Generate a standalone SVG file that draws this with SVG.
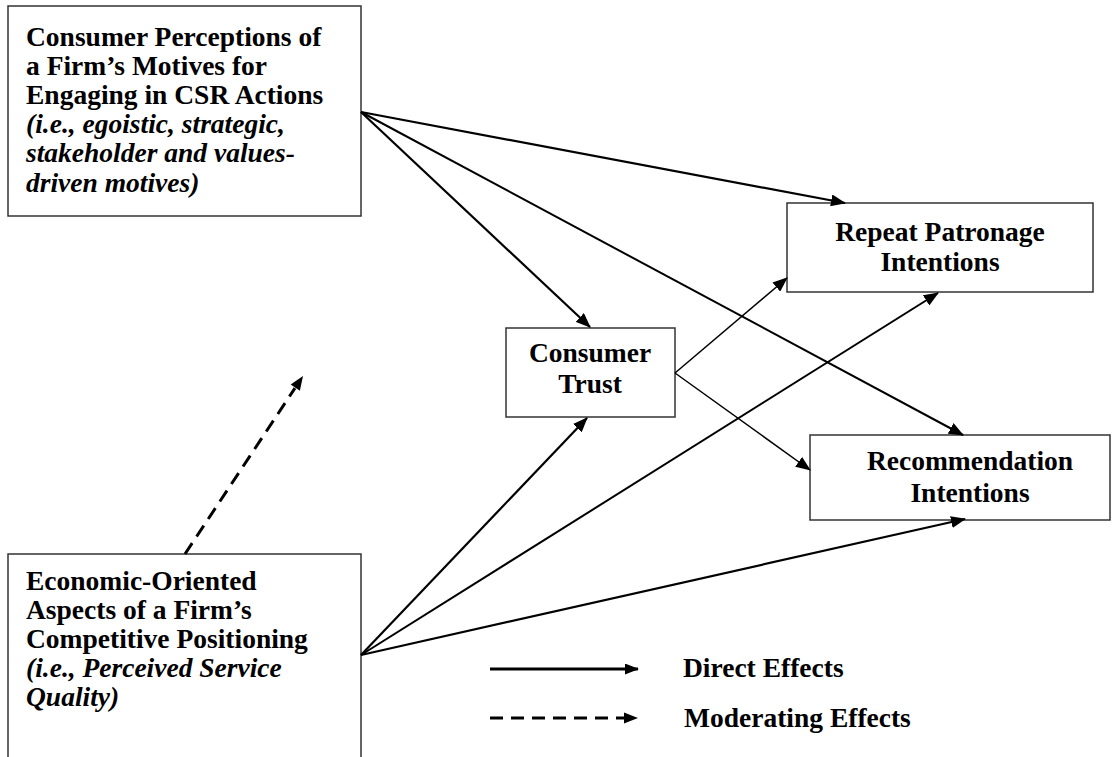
<svg xmlns="http://www.w3.org/2000/svg" width="1115" height="757" viewBox="0 0 1115 757">
<style>
.box{fill:#fff;stroke:#333;stroke-width:1.5}
.t{font-family:'Liberation Serif','Times New Roman',Times,serif;font-weight:bold;font-size:27.5px;fill:#000}
.i{font-style:italic}
.c{text-anchor:middle}
.e{stroke:#000;fill:none}
.d{stroke:#000;fill:none;stroke-width:3;stroke-linecap:butt}
</style>
<defs>
<marker id="ah" markerUnits="userSpaceOnUse" viewBox="0 0 15 12" markerWidth="15" markerHeight="12" refX="14" refY="6" orient="auto"><path d="M0,0 L15,6 L0,12 z" fill="#000"/></marker>
<marker id="ahs" markerUnits="userSpaceOnUse" viewBox="0 0 14 11" markerWidth="14" markerHeight="11" refX="13" refY="5.5" orient="auto"><path d="M0,0 L14,5.5 L0,11 z" fill="#000"/></marker>
</defs>
<g id="n-csr">
<rect class="box" x="8" y="6" width="353" height="210"/>
<text class="t" x="26" y="46">Consumer Perceptions of</text>
<text class="t" x="26" y="75">a Firm’s Motives for</text>
<text class="t" x="26" y="104">Engaging in CSR Actions</text>
<text class="t i" x="26" y="133">(i.e., egoistic, strategic,</text>
<text class="t i" x="26" y="162">stakeholder and values-</text>
<text class="t i" x="26" y="192">driven motives)</text>
</g>
<g id="n-econ">
<rect class="box" x="8" y="554" width="353" height="220"/>
<text class="t" x="26" y="590">Economic-Oriented</text>
<text class="t" x="26" y="619">Aspects of a Firm’s</text>
<text class="t" x="26" y="648">Competitive Positioning</text>
<text class="t i" x="26" y="677">(i.e., Perceived Service</text>
<text class="t i" x="26" y="706">Quality)</text>
</g>
<g id="n-trust">
<rect class="box" x="506" y="328" width="169" height="89"/>
<text class="t c" x="590" y="362">Consumer</text>
<text class="t c" x="590" y="393">Trust</text>
</g>
<g id="n-repeat">
<rect class="box" x="787" y="203" width="306" height="89"/>
<text class="t c" x="940" y="241">Repeat Patronage</text>
<text class="t c" x="940" y="271">Intentions</text>
</g>
<g id="n-recommend">
<rect class="box" x="810" y="435" width="300" height="85"/>
<text class="t c" x="970" y="470">Recommendation</text>
<text class="t c" x="970" y="502">Intentions</text>
</g>
<g id="connectors">
<path class="e" stroke-width="2.2" d="M361,112 L845,203" marker-end="url(#ah)"/>
<path class="e" stroke-width="2.2" d="M361,112 L590,327" marker-end="url(#ah)"/>
<path class="e" stroke-width="2" d="M361,112 L963,435" marker-end="url(#ah)"/>
<path class="e" stroke-width="2.2" d="M361,655 L587,418" marker-end="url(#ah)"/>
<path class="e" stroke-width="2" d="M361,655 L938,293" marker-end="url(#ah)"/>
<path class="e" stroke-width="2.2" d="M361,655 L965,519" marker-end="url(#ah)"/>
<path class="e" stroke-width="1.5" d="M675,373 L787,278" marker-end="url(#ah)"/>
<path class="e" stroke-width="1.5" d="M675,373 L810,470" marker-end="url(#ah)"/>
<path class="d" d="M185,554 L192.18,543.17 M196.6,536.5 L203.79,525.66 M208.21,519 L215.39,508.16 M219.81,501.5 L226.99,490.66 M231.41,484 L238.59,473.16 M243.01,466.49 L250.2,455.66 M254.62,448.99 L261.8,438.16 M266.22,431.49 L273.4,420.66 M277.82,413.99 L285,403.15 M289.42,396.49 L294.95,388.15"/>
<path d="M303,376 L290.7,384.61 L299.86,390.69 z" fill="#000"/>
</g>
<g id="legend">
<path class="e" stroke-width="3" d="M490,669 L638,669" marker-end="url(#ahs)"/>
<text class="t" x="683" y="677">Direct Effects</text>
<path class="d" d="M490,718 L503,718 M511,718 L524,718 M532,718 L545,718 M553,718 L566,718 M574,718 L587,718 M595,718 L608,718 M616,718 L626,718"/>
<path d="M638,718 L624,712.5 L624,723.5 z" fill="#000"/>
<text class="t" x="684" y="727">Moderating Effects</text>
</g>
</svg>
